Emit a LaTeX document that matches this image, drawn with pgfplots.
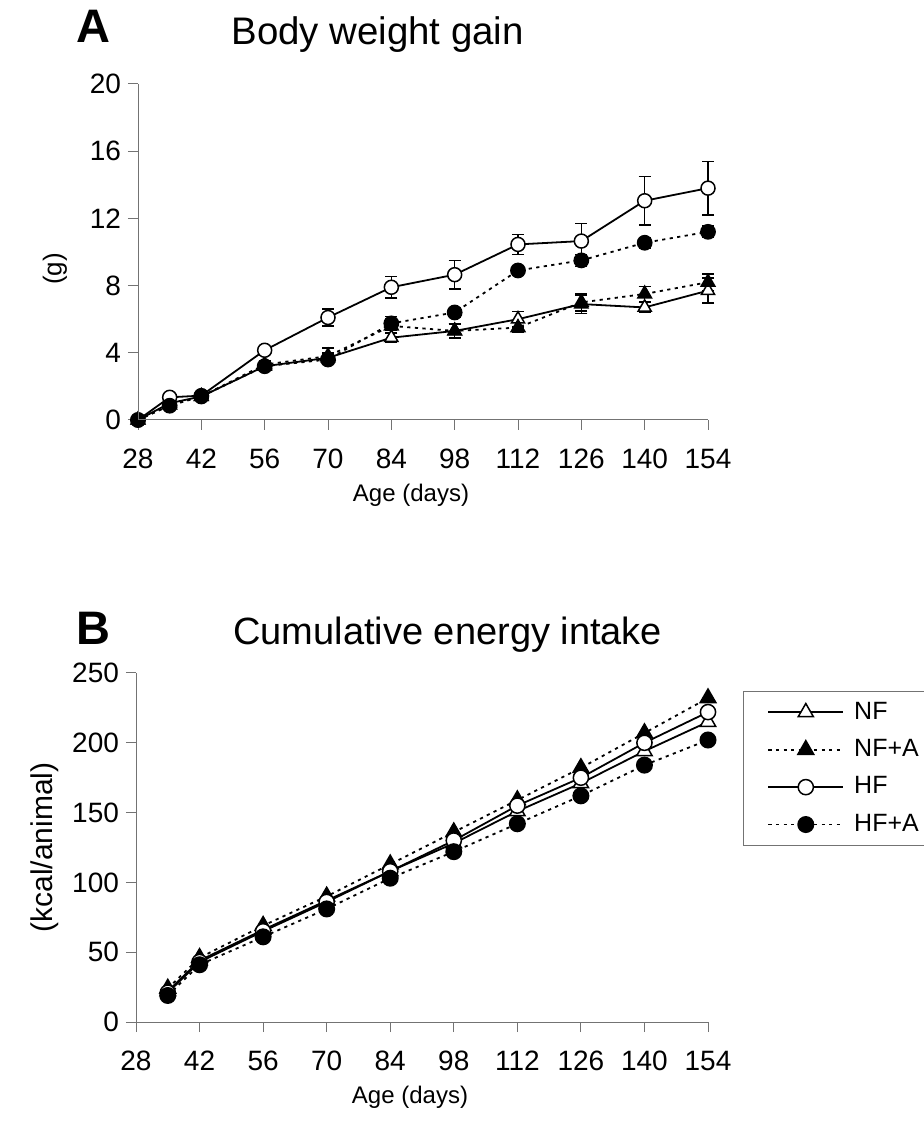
\documentclass[border=0pt]{standalone}
\usepackage{fontspec}
\setmainfont{Liberation Sans}
\usepackage{pgfplots}
\usepackage{pgfplotstable}
\pgfplotsset{compat=1.18}

% panel A: body weight gain (g), mean and error
\pgfplotstableread{
x y e
28 0 0
35 1.0 0.15
42 1.4 0.1
56 3.2 0.2
70 3.7 0.3
84 4.9 0.3
98 5.3 0.45
112 6.0 0.45
126 6.9 0.55
140 6.7 0.3
154 7.7 0.75
}\gainNF
\pgfplotstableread{
x y e
28 0 0
35 0.9 0.15
42 1.4 0.1
56 3.3 0.2
70 3.8 0.5
84 5.6 0.45
98 5.3 0.4
112 5.5 0.3
126 7.0 0.5
140 7.5 0.45
154 8.2 0.5
}\gainNFA
\pgfplotstableread{
x y e
28 0 0
35 1.35 0.15
42 1.45 0.1
56 4.15 0.2
70 6.1 0.5
84 7.9 0.65
98 8.65 0.85
112 10.45 0.6
126 10.65 1.05
140 13.05 1.45
154 13.8 1.6
}\gainHF
\pgfplotstableread{
x y e
28 0 0
35 0.85 0.15
42 1.4 0.1
56 3.2 0.2
70 3.6 0.3
84 5.75 0.4
98 6.4 0.3
112 8.9 0.25
126 9.5 0.35
140 10.55 0.3
154 11.2 0.35
}\gainHFA

% panel B: cumulative energy intake (kcal/animal)
\pgfplotstableread{
x y
35 22
42 44
56 66
70 87
84 108
98 128
112 151
126 171
140 194
154 215
}\energyNF
\pgfplotstableread{
x y
35 24
42 46
56 69
70 90
84 113
98 136
112 159
126 182
140 207
154 232
}\energyNFA
\pgfplotstableread{
x y
35 21
42 43
56 65
70 86
84 108
98 130
112 155
126 175
140 200
154 222
}\energyHF
\pgfplotstableread{
x y
35 19
42 41
56 61
70 81
84 103
98 122
112 142
126 162
140 184
154 202
}\energyHFA

\pgfplotsset{
  panel/.style={
    scale only axis,
    axis line style={draw=none},
    xtick pos=bottom, ytick pos=left,
    tick style={black!55, line width=0.5pt},
    tick align=outside,
    major tick length=5pt,
    xmin=28, xmax=154,
    xtick={28,42,...,154},
    clip=false,
    ticklabel style={font=\fontsize{14}{16}\selectfont},
    xticklabel style={yshift=-6pt},
    /pgf/number format/assume math mode=true,
    xlabel={Age (days)},
    xlabel style={font=\fontsize{12}{14}\selectfont, yshift=-0.5pt, xshift=-6pt},
    after end axis/.code={
      \draw[black!55, line width=0.5pt] (rel axis cs:0,1) -- (rel axis cs:0,0) -- (rel axis cs:1,0);
    },
  },
  solidser/.style={black, line width=0.9pt},
  dotser/.style={black, line width=0.9pt, dash pattern=on 1.6pt off 2.2pt},
  opentri/.style={mark=triangle*, mark options={solid, fill=white, draw=black, line width=0.75pt}},
  filltri/.style={mark=triangle*, mark options={solid, fill=black, draw=black}},
  opencirc/.style={mark=*, mark options={solid, fill=white, draw=black, line width=0.75pt}},
  fillcirc/.style={mark=*, mark options={solid, fill=black, draw=black}},
  errs/.style={
    error bars/.cd, y dir=both, y explicit,
    error bar style={solid, black, line width=0.75pt},
    error mark options={rotate=90, mark size=3pt, solid, black, line width=0.75pt},
  },
}

\begin{document}
\begin{tikzpicture}
\path[use as bounding box] (0,0) rectangle (461.5pt,561.5pt);

% ---------- panel A ----------
\begin{axis}[panel,
  at={(69pt,351.5pt)}, anchor=south west,
  width=285pt, height=168pt,
  ymin=0, ymax=20, ytick={0,4,...,20},
  ylabel={(g)},
  ylabel style={at={(rel axis cs:-0.146,0.45)}, anchor=center, font=\fontsize{13}{15}\selectfont},
  mark size=3.5pt,
]
\addplot[solidser, opentri, mark size=3.8pt, errs] table[x=x, y=y, y error=e] {\gainNF};
\addplot[dotser, filltri, mark size=3.8pt, errs] table[x=x, y=y, y error=e] {\gainNFA};
\addplot[solidser, opencirc, errs] table[x=x, y=y, y error=e] {\gainHF};
\addplot[dotser, fillcirc, errs] table[x=x, y=y, y error=e] {\gainHFA};
\end{axis}

% ---------- panel B ----------
\begin{axis}[panel,
  at={(68pt,50.5pt)}, anchor=south west,
  width=286pt, height=174.5pt,
  ymin=0, ymax=250, ytick={0,50,...,250},
  ylabel={(kcal/animal)},
  ylabel style={font=\fontsize{15}{17}\selectfont},
  mark size=3.8pt,
  legend image code/.code={
    \draw[mark repeat=2, mark phase=2, #1] plot coordinates {(0pt,0pt) (18.75pt,0pt) (37.5pt,0pt)};
  },
  legend cell align=left,
  legend style={at={(rel axis cs:1.061,0.948)}, anchor=north west,
    draw=black!55, line width=0.5pt,
    font=\fontsize{12.5}{14}\selectfont,
    inner xsep=12pt, inner ysep=1pt, row sep=0pt,
    nodes={text height=11pt, text depth=4.2pt, inner ysep=1.75pt},
    /tikz/every odd column/.append style={column sep=3pt}},
]
\addplot[solidser, opentri, mark size=4.4pt] table[x=x, y=y] {\energyNF};
\addlegendentry{NF}
\addplot[dotser, filltri, mark size=4.4pt] table[x=x, y=y] {\energyNFA};
\addlegendentry{NF+A}
\addplot[solidser, opencirc] table[x=x, y=y] {\energyHF};
\addlegendentry{HF}
\addplot[dotser, fillcirc] table[x=x, y=y] {\energyHFA};
\addlegendentry{HF+A}
\end{axis}

% panel letters and titles
\node[anchor=base west, inner sep=0pt, font=\fontsize{23.5}{26}\selectfont\bfseries] at (38pt,540pt) {A};
\node[anchor=base west, inner sep=0pt, font=\fontsize{19.2}{22}\selectfont] at (115.5pt,539pt) {Body weight gain};
\node[anchor=base west, inner sep=0pt, font=\fontsize{23.5}{26}\selectfont\bfseries] at (38pt,239pt) {B};
\node[anchor=base west, inner sep=0pt, font=\fontsize{19}{22}\selectfont] at (116.5pt,239pt) {Cumulative energy intake};
\end{tikzpicture}
\end{document}
